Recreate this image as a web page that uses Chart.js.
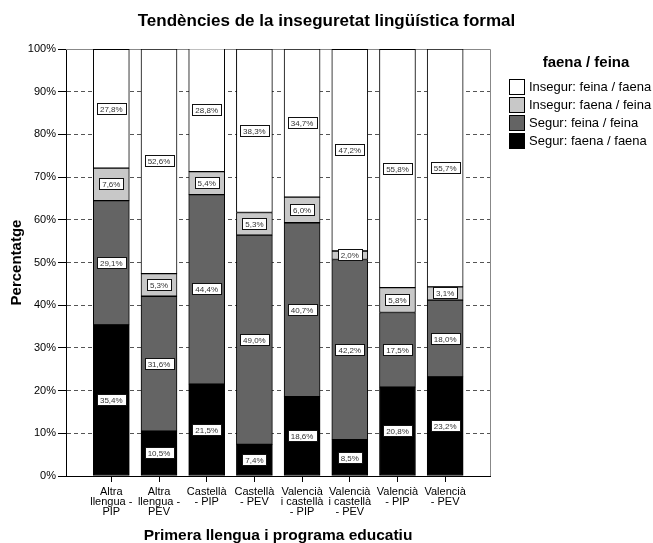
<!DOCTYPE html>
<html>
<head>
<meta charset="utf-8">
<script src="https://cdn.jsdelivr.net/npm/chart.js@4.4.1/dist/chart.umd.min.js"></script>
<style>
html, body { margin: 0; padding: 0; background: #fff; }
#wrap { width: 653px; height: 543px; position: relative; }
</style>
</head>
<body>
<div id="wrap"><canvas id="grafic"></canvas></div>
<script>
// categories (tick labels already split in lines as in the original)
var categories = [
    ['Altra', 'llengua -', 'PIP'],
    ['Altra', 'llengua -', 'PEV'],
    ['Castellà', '- PIP'],
    ['Castellà', '- PEV'],
    ['Valencià', 'i castellà', '- PIP'],
    ['Valencià', 'i castellà', '- PEV'],
    ['Valencià', '- PIP'],
    ['Valencià', '- PEV']
];
var positions = [0, 1, 2, 3, 4, 5, 6, 7];

// percentatges, from bottom to top of each bar
var segur_faena_faena = [35.4, 10.5, 21.5, 7.4, 18.6, 8.5, 20.8, 23.2];
var segur_feina_feina = [29.1, 31.6, 44.4, 49.0, 40.7, 42.2, 17.5, 18.0];
var insegur_faena_feina = [7.6, 5.3, 5.4, 5.3, 6.0, 2.0, 5.8, 3.1];
var insegur_feina_faena = [27.8, 52.6, 28.8, 38.3, 34.7, 47.2, 55.8, 55.7];

var series_names = ['Segur: faena / faena', 'Segur: feina / feina', 'Insegur: faena / feina', 'Insegur: feina / faena'];
var legend_title = 'faena / feina';
var chart_title = 'Tendències de la inseguretat lingüística formal';
var x_title = 'Primera llengua i programa educatiu';
var y_title = 'Percentatge';

var FONT = '"Liberation Sans", Arial, sans-serif';

function createDataSet(strlabel, color, data){
    var set = {
        label: strlabel,
        backgroundColor: color,
        borderColor: '#000',
        borderWidth: 1,
        borderSkipped: false,
        barThickness: 36,
        xAxisID: 'x',
        yAxisID: 'y',
        data: data
    };
    return set;
}

function formatPct(v){
    return v.toFixed(1).replace('.', ',') + '%';
}

// white boxes with the value in the middle of every segment
var labelsPlugin = {
    id: 'etiquetes',
    afterDatasetsDraw: function(chart){
        var ctx = chart.ctx;
        ctx.save();
        ctx.font = '8px ' + FONT;
        ctx.textAlign = 'center';
        ctx.textBaseline = 'middle';
        chart.data.datasets.forEach(function(ds, i){
            var meta = chart.getDatasetMeta(i);
            meta.data.forEach(function(bar, j){
                var p = bar.getProps(['x', 'y', 'base'], true);
                var cy = Math.round((p.y + p.base) / 2);
                var txt = formatPct(ds.data[j]);
                var w = Math.round(ctx.measureText(txt).width + 6);
                var h = 11;
                var bx = Math.round(p.x - w / 2) + 0.5;
                var by = cy - 5.5;
                ctx.fillStyle = '#fff';
                ctx.fillRect(bx, by, w, h);
                ctx.strokeStyle = '#111';
                ctx.lineWidth = 1;
                ctx.strokeRect(bx, by, w, h);
                ctx.fillStyle = '#333';
                ctx.fillText(txt, p.x, cy + 0.5);
            });
        });
        ctx.restore();
    }
};

// grey frame on top and right of the plot
var framePlugin = {
    id: 'marc',
    beforeDatasetsDraw: function(chart){
        var a = chart.chartArea;
        var ctx = chart.ctx;
        ctx.save();
        ctx.strokeStyle = '#888';
        ctx.lineWidth = 1;
        ctx.beginPath();
        ctx.moveTo(a.left, a.top + 0.5);
        ctx.lineTo(a.right + 0.5, a.top + 0.5);
        ctx.lineTo(a.right + 0.5, a.bottom);
        ctx.stroke();
        ctx.restore();
    }
};

var legendPlugin = {
    id: 'llegenda',
    afterDraw: function(chart){
        var ctx = chart.ctx;
        var left = chart.chartArea.right + 19;
        var top = chart.chartArea.top;
        ctx.save();
        ctx.fillStyle = '#000';
        ctx.font = 'bold 15px ' + FONT;
        ctx.textAlign = 'center';
        ctx.textBaseline = 'middle';
        ctx.fillText(legend_title, left + 77, top + 14);
        ctx.font = '13px ' + FONT;
        ctx.textAlign = 'left';
        var sets = chart.data.datasets.slice().reverse();
        sets.forEach(function(ds, i){
            var y = Math.round(top + 30 + i * 17.9);
            ctx.fillStyle = ds.backgroundColor;
            ctx.fillRect(left + 0.5, y + 0.5, 15, 15);
            ctx.strokeStyle = '#000';
            ctx.lineWidth = 1;
            ctx.strokeRect(left + 0.5, y + 0.5, 15, 15);
            ctx.fillStyle = '#000';
            ctx.fillText(ds.label, left + 20, y + 8.5);
        });
        ctx.restore();
    }
};

var datasets = [
    createDataSet(series_names[0], '#000000', segur_faena_faena),
    createDataSet(series_names[1], '#646464', segur_feina_feina),
    createDataSet(series_names[2], '#c8c8c8', insegur_faena_feina),
    createDataSet(series_names[3], '#ffffff', insegur_feina_faena)
];

var ctx = document.getElementById('grafic').getContext('2d');
var chart = new Chart(ctx, {
    type: 'bar',
    data: {
        labels: positions,
        datasets: datasets
    },
    plugins: [framePlugin, labelsPlugin, legendPlugin],
    options: {
        responsive: true,
        maintainAspectRatio: false,
        animation: false,
        layout: { padding: 0 },
        plugins: {
            legend: { display: false },
            tooltip: { enabled: false },
            title: {
                display: true,
                text: chart_title,
                color: '#000',
                font: { family: FONT, size: 17, weight: 'bold' },
                padding: { top: 11, bottom: 17.6 }
            }
        },
        scales: {
            x: {
                type: 'linear',
                stacked: true,
                offset: false,
                min: -0.95,
                max: 7.94,
                afterBuildTicks: function(scale){
                    scale.ticks = positions.map(function(p){ return { value: p }; });
                },
                afterFit: function(scale){ scale.height = 67; },
                grid: {
                    offset: false,
                    drawOnChartArea: false,
                    drawTicks: true,
                    tickLength: 6,
                    tickColor: '#000'
                },
                border: { display: true, color: '#000', width: 1 },
                ticks: {
                    autoSkip: false,
                    maxRotation: 0,
                    padding: 5,
                    color: '#000',
                    font: { family: FONT, size: 11, lineHeight: 0.92 },
                    callback: function(v){ return categories[v]; }
                },
                title: {
                    display: true,
                    text: x_title,
                    color: '#000',
                    font: { family: FONT, size: 15.5, weight: 'bold', lineHeight: 1 },
                    padding: { top: 0, bottom: 0 }
                }
            },
            y: {
                stacked: true,
                min: 0,
                max: 100,
                afterFit: function(scale){ scale.width = 66; },
                grid: {
                    color: '#555',
                    tickColor: '#000',
                    tickLength: 8,
                    tickBorderDash: []
                },
                border: { display: true, color: '#000', width: 1, dash: [4, 3] },
                ticks: {
                    stepSize: 10,
                    padding: 2,
                    color: '#000',
                    font: { family: FONT, size: 11 },
                    callback: function(v){ return v + '%'; }
                },
                title: {
                    display: true,
                    text: y_title,
                    color: '#000',
                    font: { family: FONT, size: 15, weight: 'bold' },
                    padding: { top: 8, bottom: 0 }
                }
            },
            espai: {
                type: 'linear',
                position: 'right',
                display: true,
                afterFit: function(scale){ scale.width = 163; },
                grid: { display: false },
                border: { display: false },
                ticks: { display: false }
            }
        }
    }
});
</script>
</body>
</html>
